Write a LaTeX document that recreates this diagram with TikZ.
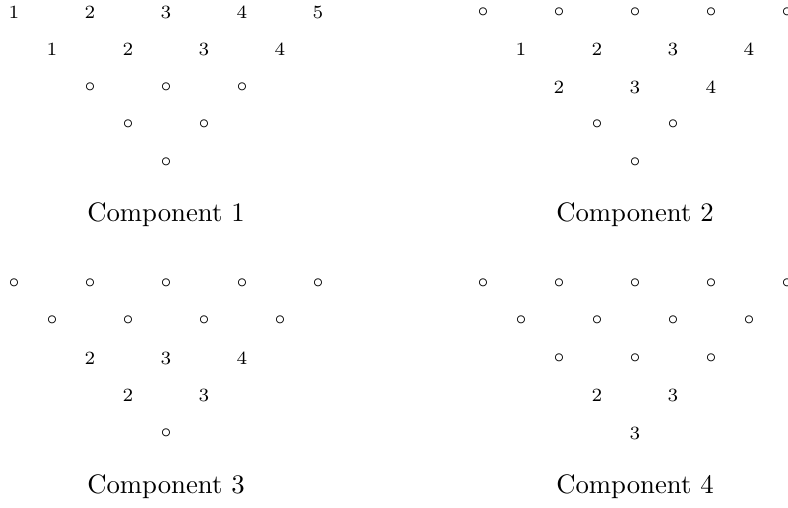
\documentclass[tikz,border=0pt]{standalone}
\usepackage{amsmath}
\usetikzlibrary{positioning}

\begin{document}
\begin{tikzpicture}[
  x=0.01316cm, y=-0.01316cm,
  entry/.style={font=\scriptsize, inner sep=0pt},
  caption/.style={font=\normalsize, inner sep=0pt}
]
\useasboundingbox (0,0) rectangle (788,508);

% Component 1
\foreach \v [count=\k from 0] in {1,2,3,4,5}
  \node[entry] (a0\k) at (14+76*\k, 12) {$\v$};
\foreach \v [count=\k from 0] in {1,2,3,4}
  \node[entry] (a1\k) at (52+76*\k, 49.5) {$\v$};
\foreach \v [count=\k from 0] in {\circ,\circ,\circ}
  \node[entry] (a2\k) at (90+76*\k, 87) {$\v$};
\foreach \v [count=\k from 0] in {\circ,\circ}
  \node[entry] (a3\k) at (128+76*\k, 124.5) {$\v$};
\node[entry] (a40) at (166, 162) {$\circ$};
\node[caption] (capa) at (166, 215) {Component 1};

% Component 2
\foreach \v [count=\k from 0] in {\circ,\circ,\circ,\circ,\circ}
  \node[entry] (b0\k) at (483+76*\k, 12) {$\v$};
\foreach \v [count=\k from 0] in {1,2,3,4}
  \node[entry] (b1\k) at (521+76*\k, 49.5) {$\v$};
\foreach \v [count=\k from 0] in {2,3,4}
  \node[entry] (b2\k) at (559+76*\k, 87) {$\v$};
\foreach \v [count=\k from 0] in {\circ,\circ}
  \node[entry] (b3\k) at (597+76*\k, 124.5) {$\v$};
\node[entry] (b40) at (635, 162) {$\circ$};
\node[caption] (capb) at (635, 215) {Component 2};

% Component 3
\foreach \v [count=\k from 0] in {\circ,\circ,\circ,\circ,\circ}
  \node[entry] (c0\k) at (14+76*\k, 283) {$\v$};
\foreach \v [count=\k from 0] in {\circ,\circ,\circ,\circ}
  \node[entry] (c1\k) at (52+76*\k, 320.5) {$\v$};
\foreach \v [count=\k from 0] in {2,3,4}
  \node[entry] (c2\k) at (90+76*\k, 358) {$\v$};
\foreach \v [count=\k from 0] in {2,3}
  \node[entry] (c3\k) at (128+76*\k, 395.5) {$\v$};
\node[entry] (c40) at (166, 433) {$\circ$};
\node[caption] (capc) at (166, 487) {Component 3};

% Component 4
\foreach \v [count=\k from 0] in {\circ,\circ,\circ,\circ,\circ}
  \node[entry] (d0\k) at (483+76*\k, 283) {$\v$};
\foreach \v [count=\k from 0] in {\circ,\circ,\circ,\circ}
  \node[entry] (d1\k) at (521+76*\k, 320.5) {$\v$};
\foreach \v [count=\k from 0] in {\circ,\circ,\circ}
  \node[entry] (d2\k) at (559+76*\k, 358) {$\v$};
\foreach \v [count=\k from 0] in {2,3}
  \node[entry] (d3\k) at (597+76*\k, 395.5) {$\v$};
\node[entry] (d40) at (635, 433) {$3$};
\node[caption] (capd) at (635, 487) {Component 4};

\end{tikzpicture}
\end{document}
